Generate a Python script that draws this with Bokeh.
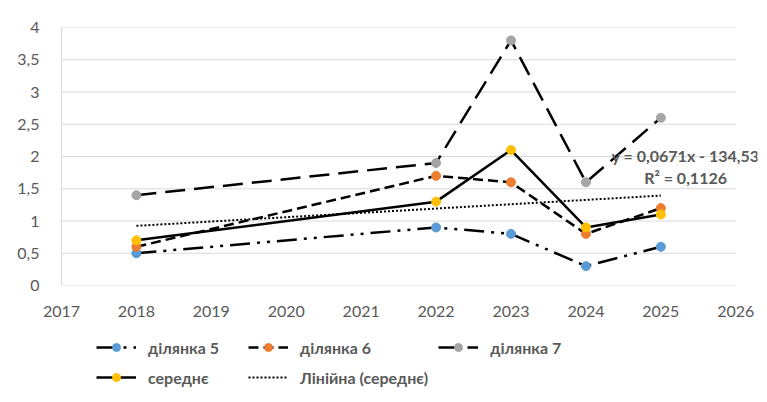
from bokeh.plotting import figure
from bokeh.models import Legend, LegendItem, Label, CustomJSTickFormatter, FixedTicker, Range1d
from bokeh.layouts import column
from bokeh.embed import file_html
from bokeh.resources import INLINE

years = [2018, 2022, 2023, 2024, 2025]
plot5 = [0.5, 0.9, 0.8, 0.3, 0.6]
plot6 = [0.6, 1.7, 1.6, 0.8, 1.2]
plot7 = [1.4, 1.9, 3.8, 1.6, 2.6]
mean_vals = [0.7, 1.3, 2.1, 0.9, 1.1]
trend_years = [2018, 2025]
trend_vals = [0.925, 1.394]
x_ticks = [2017, 2018, 2019, 2020, 2021, 2022, 2023, 2024, 2025, 2026]
y_ticks = [0, 0.5, 1, 1.5, 2, 2.5, 3, 3.5, 4]
labels = ["ділянка 5", "ділянка 6", "ділянка 7", "середнє", "Лінійна (середнє)"]
eq_text = "y = 0,0671x - 134,53"
r2_text = "R² = 0,1126"

FONT = "Lato"
GRAY = "#595959"
FS = "16px"

p = figure(width=759, height=330, output_backend="svg", toolbar_location=None,
           x_range=Range1d(2017, 2026.29), y_range=Range1d(0, 4),
           min_border_left=61, min_border_right=2, min_border_top=27, min_border_bottom=45)
p.outline_line_color = None
p.background_fill_color = "white"

for ax in (p.xaxis[0], p.yaxis[0]):
    ax.major_tick_line_color = None
    ax.minor_tick_line_color = None
    ax.major_label_text_font = FONT
    ax.major_label_text_font_size = FS
    ax.major_label_text_color = GRAY
p.xaxis.axis_line_color = None
p.yaxis.axis_line_color = "#D9D9D9"
p.xaxis.ticker = FixedTicker(ticks=x_ticks)
p.yaxis.ticker = FixedTicker(ticks=y_ticks)
p.xaxis.major_label_standoff = 14
p.yaxis.major_label_standoff = 16
p.yaxis.formatter = CustomJSTickFormatter(code="return tick.toString().replace('.', ',');")
p.xgrid.grid_line_color = None
p.ygrid.grid_line_color = None

# horizontal gridlines spanning the category axis 2017..2026
p.segment(x0=[x_ticks[0]] * len(y_ticks), x1=[x_ticks[-1]] * len(y_ticks),
          y0=y_ticks, y1=y_ticks, line_color="#D9D9D9", line_width=1)

styles = [
    ("#5B9BD5", "20 7 3 7 3 7"),
    ("#ED7D31", "10 5"),
    ("#A5A5A5", "20 9"),
    ("#FFC000", "solid"),
]
series = [plot5, plot6, plot7, mean_vals]
for vals, (col, dash) in zip(series, styles):
    p.line(years, vals, line_color="black", line_width=2.5, line_dash=dash)
    p.scatter(years, vals, size=9, fill_color=col, line_color=col)

p.line(trend_years, trend_vals, line_color="black", line_width=2, line_dash="2 2")

p.add_layout(Label(x=2025.33, y=2.02, text=eq_text, text_align="center", text_baseline="middle",
                   text_font=FONT, text_font_size=FS, text_color=GRAY, text_font_style="bold"))
p.add_layout(Label(x=2025.33, y=1.68, text=r2_text, text_align="center", text_baseline="middle",
                   text_font=FONT, text_font_size=FS, text_color=GRAY, text_font_style="bold"))

# legend panel below the chart (proxy renderers hold only a NaN sample, nothing is drawn)
NAN = [float("nan")]
lf = figure(width=759, height=64, output_backend="svg", toolbar_location=None,
            x_axis_type=None, y_axis_type=None, x_range=Range1d(0, 1), y_range=Range1d(0, 1),
            min_border=0)
lf.outline_line_color = None
lf.xgrid.grid_line_color = None
lf.ygrid.grid_line_color = None
items = []
for (col, dash), lab in zip(styles, labels):
    lr = lf.line(NAN, NAN, line_color="black", line_width=2.5, line_dash=dash)
    sr = lf.scatter(NAN, NAN, size=9, fill_color=col, line_color=col)
    items.append(LegendItem(label=lab, renderers=[lr, sr]))
tr = lf.line(NAN, NAN, line_color="black", line_width=2, line_dash="2 2")
items.append(LegendItem(label=labels[4], renderers=[tr]))

legend = Legend(items=items, location=(35, 7), orientation="horizontal", ncols=3,
                glyph_width=40, glyph_height=20, label_standoff=12, label_width=90,
                spacing=10, padding=5, margin=0,
                label_text_font=FONT, label_text_font_size=FS, label_text_color=GRAY,
                label_text_font_style="bold", border_line_color=None, background_fill_alpha=0)
lf.add_layout(legend, "center")

open("out.html", "w").write(file_html(column(p, lf, spacing=0), INLINE))
